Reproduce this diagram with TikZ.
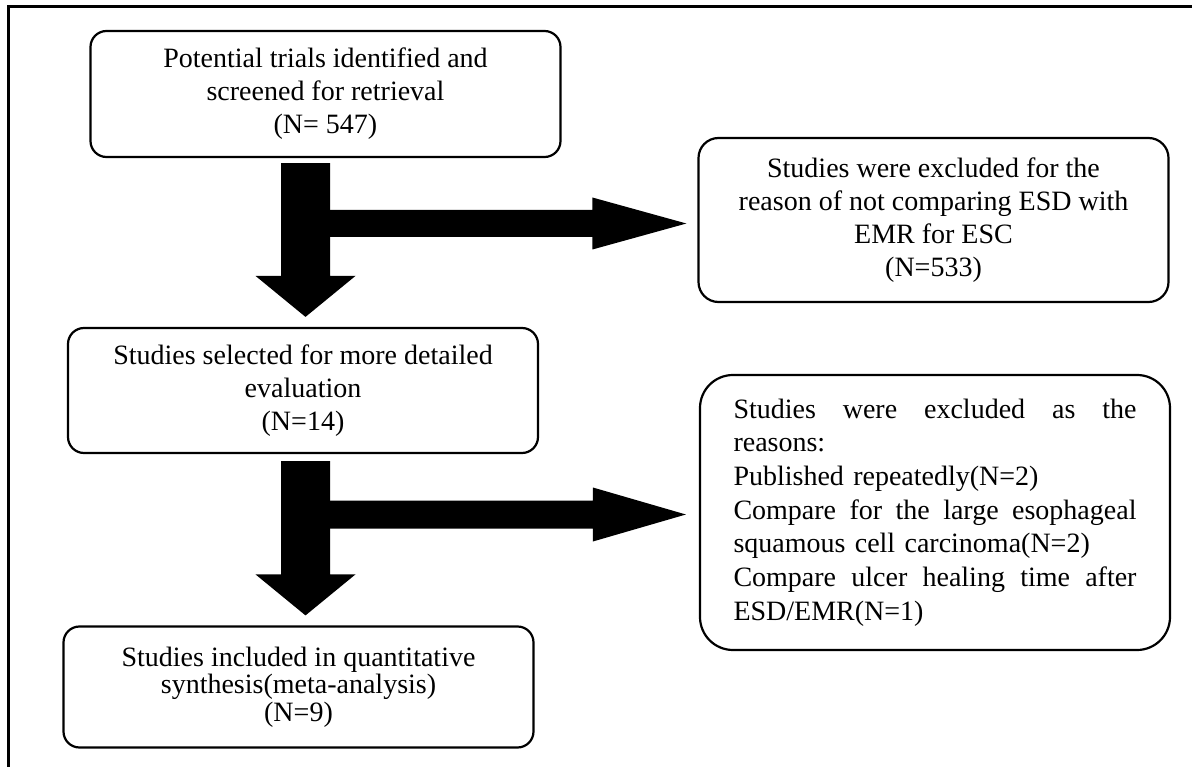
\documentclass[tikz,border=0pt]{standalone}
\usepackage{fontspec}
\setmainfont{Liberation Serif}
\usetikzlibrary{calc}
\newcommand{\justline}[1]{{\spaceskip=0pt\xspaceskip=0pt\makebox[403pt][s]{#1}}}
\begin{document}
\begin{tikzpicture}[x=1pt,y=-1pt,
  box/.style={draw, line width=2.2pt, rounded corners=16pt, minimum width=470pt, align=center, inner sep=0pt, font=\fontsize{28}{33}\selectfont},
  fatarrow/.style={fill=black}]
\useasboundingbox (0,0) rectangle (1192,767);
\draw[line width=3pt] (8,767) -- (8,7) -- (1192,7);

\node[box, minimum height=126pt] (b1) at (325.5,94) {Potential trials identified and\\screened for retrieval\\(N= 547)};
\node[box, minimum height=164pt, rounded corners=20pt] (b2) at (933.5,220) {Studies were excluded for the\\reason of not comparing ESD with\\EMR for ESC\\(N=533)};
\node[box, minimum height=125pt] (b3) at (303,390.5) {Studies selected for more detailed\\evaluation\\(N=14)};
\node[box, minimum height=275pt, rounded corners=33pt, align=left, text width=403pt, font=\fontsize{28}{33.7}\selectfont] (b4) at (935,512.5) {\justline{Studies were excluded as the}\\reasons:\\Published repeatedly(N=2)\\\justline{Compare for the large esophageal}\\squamous cell carcinoma(N=2)\\\justline{Compare ulcer healing time after}\\ESD/EMR(N=1)};
\node[box, minimum height=121pt, font=\fontsize{28}{27.5}\selectfont] (b5) at (298.5,687) {Studies included in quantitative\\synthesis(meta-analysis)\\(N=9)};

% down arrow 1
\coordinate (d1s) at ($(b1.south)+(-20,5)$);
\coordinate (d1e) at ($(b3.north)+(2.5,-10)$);
\fill[fatarrow] ($(d1s)+(-24.5,0)$) -- ($(d1s)+(24.5,0)$) -- ($(d1e)+(24.5,-41)$) -- ($(d1e)+(50,-41)$) -- (d1e) -- ($(d1e)+(-50,-41)$) -- ($(d1e)+(-24.5,-41)$) -- cycle;
% right arrow 1
\coordinate (h1e) at ($(b2.west)+(-11,3.5)$);
\coordinate (h1s) at ($(d1s |- h1e)+(22.5,0)$);
\fill[fatarrow] ($(h1s)+(0,-13.5)$) -- ($(h1e)+(-94,-13.5)$) -- ($(h1e)+(-94,-26)$) -- (h1e) -- ($(h1e)+(-94,26)$) -- ($(h1e)+(-94,13.5)$) -- ($(h1s)+(0,13.5)$) -- cycle;

% down arrow 2
\coordinate (d2s) at ($(b3.south)+(2.5,7)$);
\coordinate (d2e) at ($(b5.north)+(7,-10)$);
\fill[fatarrow] ($(d2s)+(-24.5,0)$) -- ($(d2s)+(24.5,0)$) -- ($(d2e)+(24.5,-41)$) -- ($(d2e)+(50,-41)$) -- (d2e) -- ($(d2e)+(-50,-41)$) -- ($(d2e)+(-24.5,-41)$) -- cycle;
% right arrow 2
\coordinate (h2e) at ($(b4.west)+(-13,2)$);
\coordinate (h2s) at ($(d2s |- h2e)+(22.5,0)$);
\fill[fatarrow] ($(h2s)+(0,-14)$) -- ($(h2e)+(-93,-14)$) -- ($(h2e)+(-93,-27)$) -- (h2e) -- ($(h2e)+(-93,27)$) -- ($(h2e)+(-93,14)$) -- ($(h2s)+(0,14)$) -- cycle;
\end{tikzpicture}
\end{document}
